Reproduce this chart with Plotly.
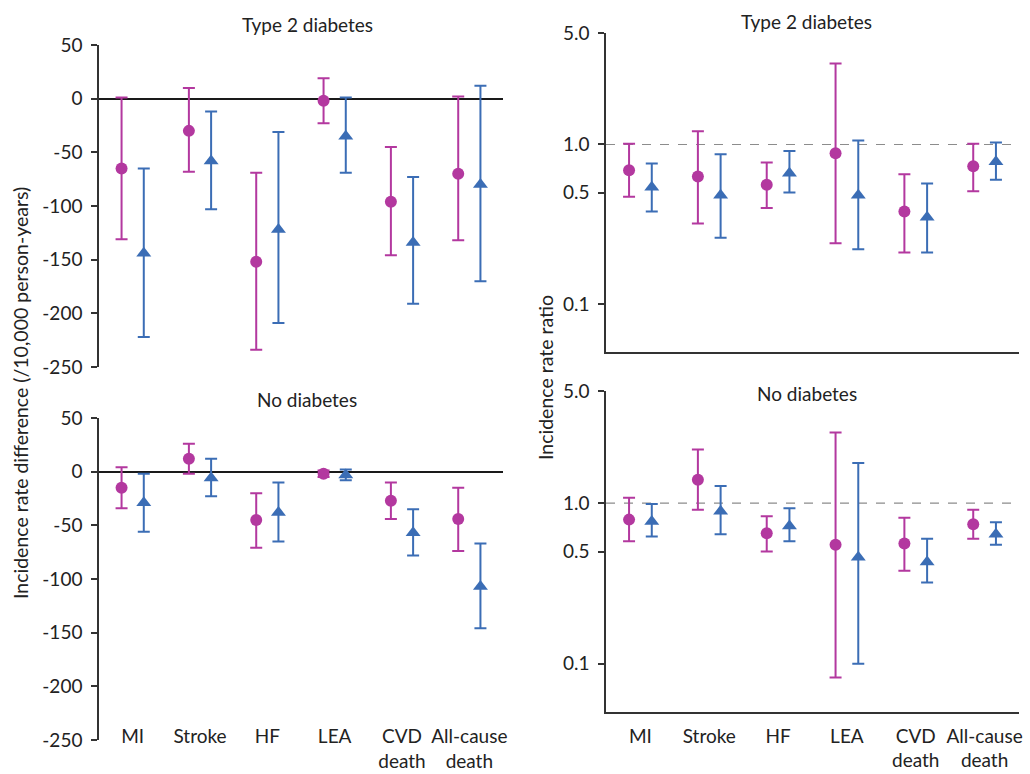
import math
import plotly.graph_objects as go

categories = ["MI", "Stroke", "HF", "LEA", "CVD<br>death", "All-cause<br>death"]

# Incidence rate difference (/10,000 person-years), Type 2 diabetes
rd_t2d_a = [-65, -30, -152, -2, -96, -70]
rd_t2d_a_hi = [1, 10, -69, 19, -45, 2]
rd_t2d_a_lo = [-131, -68, -234, -23, -146, -132]
rd_t2d_b = [-144, -58, -122, -35, -134, -80]
rd_t2d_b_hi = [-65, -12, -31, 1, -73, 12]
rd_t2d_b_lo = [-222, -103, -209, -69, -191, -170]

# Incidence rate difference, No diabetes
rd_nod_a = [-15, 12, -45, -2, -27, -44]
rd_nod_a_hi = [4, 26, -20, 1, -10, -15]
rd_nod_a_lo = [-34, -2, -71, -5, -44, -74]
rd_nod_b = [-29, -6, -38, -3, -57, -107]
rd_nod_b_hi = [-2, 12, -10, 2, -35, -67]
rd_nod_b_lo = [-56, -23, -65, -8, -78, -146]

# Incidence rate ratio, Type 2 diabetes
rr_t2d_a = [0.69, 0.63, 0.56, 0.88, 0.38, 0.73]
rr_t2d_a_hi = [1.01, 1.21, 0.77, 3.22, 0.65, 1.01]
rr_t2d_a_lo = [0.47, 0.32, 0.40, 0.24, 0.21, 0.51]
rr_t2d_b = [0.54, 0.48, 0.66, 0.48, 0.35, 0.78]
rr_t2d_b_hi = [0.76, 0.87, 0.91, 1.06, 0.57, 1.03]
rr_t2d_b_lo = [0.38, 0.26, 0.50, 0.22, 0.21, 0.60]

# Incidence rate ratio, No diabetes
rr_nod_a = [0.79, 1.40, 0.65, 0.55, 0.56, 0.74]
rr_nod_a_hi = [1.08, 2.16, 0.83, 2.76, 0.81, 0.91]
rr_nod_a_lo = [0.58, 0.91, 0.50, 0.082, 0.38, 0.60]
rr_nod_b = [0.77, 0.89, 0.72, 0.46, 0.43, 0.64]
rr_nod_b_hi = [0.99, 1.28, 0.93, 1.78, 0.60, 0.76]
rr_nod_b_lo = [0.62, 0.64, 0.58, 0.10, 0.32, 0.55]

MAGENTA = "#B3389F"
BLUE = "#3B6DB5"
FONT = "Lato"
AXC = "#333333"
TXT = "#222222"

W, H = 1030, 774
def px_x(p): return p / W
def px_y(p): return (H - p) / H

idx = list(range(len(categories)))
OFF = 0.165
xa = [i - OFF for i in idx]
xb = [i + OFF for i in idx]

fig = go.Figure()

def add_series(xv, y, hi, lo, color, symbol, size, xaxis, yaxis):
    fig.add_trace(go.Scatter(
        x=xv, y=y, mode="markers",
        marker=dict(color=color, symbol=symbol, size=size, line=dict(width=0)),
        error_y=dict(type="data", symmetric=False,
                     array=[h - v for h, v in zip(hi, y)],
                     arrayminus=[v - l for v, l in zip(y, lo)],
                     color=color, thickness=2, width=6),
        xaxis=xaxis, yaxis=yaxis, showlegend=False, hoverinfo="skip"))

add_series(xa, rd_t2d_a, rd_t2d_a_hi, rd_t2d_a_lo, MAGENTA, "circle", 12, "x", "y")
add_series(xb, rd_t2d_b, rd_t2d_b_hi, rd_t2d_b_lo, BLUE, "triangle-up", 13, "x", "y")
add_series(xa, rr_t2d_a, rr_t2d_a_hi, rr_t2d_a_lo, MAGENTA, "circle", 12, "x2", "y2")
add_series(xb, rr_t2d_b, rr_t2d_b_hi, rr_t2d_b_lo, BLUE, "triangle-up", 13, "x2", "y2")
add_series(xa, rd_nod_a, rd_nod_a_hi, rd_nod_a_lo, MAGENTA, "circle", 12, "x3", "y3")
add_series(xb, rd_nod_b, rd_nod_b_hi, rd_nod_b_lo, BLUE, "triangle-up", 13, "x3", "y3")
add_series(xa, rr_nod_a, rr_nod_a_hi, rr_nod_a_lo, MAGENTA, "circle", 12, "x4", "y4")
add_series(xb, rr_nod_b, rr_nod_b_hi, rr_nod_b_lo, BLUE, "triangle-up", 13, "x4", "y4")

left_dom = [px_x(99), px_x(503)]
right_dom = [px_x(606), px_x(1019)]
tickfont = dict(family=FONT, size=19, color=TXT)

def xaxis_common(dom, **kw):
    d = dict(domain=dom, range=[-0.5, 5.5], showgrid=False, zeroline=False,
             tickvals=idx, ticktext=categories, tickfont=tickfont, ticks="",
             ticklabelstandoff=11, fixedrange=True, automargin=False)
    d.update(kw)
    return d

rd_ticks = [50, 0, -50, -100, -150, -200, -250]
rr_ticks = [0.1, 0.5, 1.0, 5.0]
rr_ticktext = ["0.1", "0.5", "1.0", "5.0"]

def yrd(dom, anchor):
    return dict(domain=dom, anchor=anchor, range=[-250, 50], tickvals=rd_ticks,
                ticktext=[str(v) for v in rd_ticks], showgrid=False,
                zeroline=True, zerolinecolor="#1a1a1a", zerolinewidth=1.5,
                showline=True, linecolor=AXC, linewidth=1.5,
                ticks="outside", ticklen=6, tickcolor=AXC, tickwidth=1.5,
                ticklabelstandoff=5,
                tickfont=tickfont, fixedrange=True, automargin=False)

def yrr(dom, anchor):
    return dict(domain=dom, anchor=anchor, type="log",
                range=[math.log10(0.05), math.log10(5)], tickvals=rr_ticks,
                ticktext=rr_ticktext, showgrid=False, zeroline=False,
                showline=True, linecolor=AXC, linewidth=1.5,
                ticks="outside", ticklen=6, tickcolor=AXC, tickwidth=1.5,
                ticklabelstandoff=5,
                tickfont=tickfont, fixedrange=True, automargin=False)

fig.update_layout(
    width=W, height=H,
    margin=dict(l=0, r=0, t=0, b=0, pad=0, autoexpand=False),
    paper_bgcolor="white", plot_bgcolor="white",
    font=dict(family=FONT, size=19, color=TXT),
    showlegend=False,
    xaxis=xaxis_common(left_dom, anchor="y", showticklabels=False, showline=False),
    yaxis=yrd([px_y(367), px_y(45)], "x"),
    xaxis2=xaxis_common(right_dom, anchor="y2", showticklabels=False,
                        showline=True, linecolor=AXC, linewidth=1.5),
    yaxis2=yrr([px_y(352), px_y(33)], "x2"),
    xaxis3=xaxis_common(left_dom, anchor="free", position=px_y(712),
                        showticklabels=True, showline=False),
    yaxis3=yrd([px_y(740), px_y(418)], "x3"),
    xaxis4=xaxis_common(right_dom, anchor="y4", showticklabels=True,
                        showline=True, linecolor=AXC, linewidth=1.5,
                        ticklabelstandoff=6),
    yaxis4=yrr([px_y(712), px_y(391)], "x4"),
)

for xr, yr in (("x2", "y2"), ("x4", "y4")):
    fig.add_shape(type="line", xref=f"{xr} domain", yref=yr, x0=0, x1=1,
                  y0=1.0, y1=1.0, line=dict(color="#8c8c8c", width=1.2, dash="dash"),
                  layer="below")

titles = [
    ("Type 2 diabetes", 307, 25),
    ("No diabetes", 307, 399),
    ("Type 2 diabetes", 806, 22),
    ("No diabetes", 807, 394),
]
for t, x, y in titles:
    fig.add_annotation(text=t, x=px_x(x), y=px_y(y), xref="paper", yref="paper",
                       xanchor="center", yanchor="middle", showarrow=False,
                       font=dict(family=FONT, size=19, color=TXT))

fig.add_annotation(text="Incidence rate difference (/10,000 person-years)",
                   x=px_x(20), y=px_y(393), xref="paper", yref="paper",
                   textangle=-90, showarrow=False, xanchor="center", yanchor="middle",
                   font=dict(family=FONT, size=19.5, color=TXT))
fig.add_annotation(text="Incidence rate ratio",
                   x=px_x(545), y=px_y(378), xref="paper", yref="paper",
                   textangle=-90, showarrow=False, xanchor="center", yanchor="middle",
                   font=dict(family=FONT, size=19.5, color=TXT))

fig.write_html("out.html", config={"displayModeBar": False},
               post_script="document.body.style.margin='0';")
